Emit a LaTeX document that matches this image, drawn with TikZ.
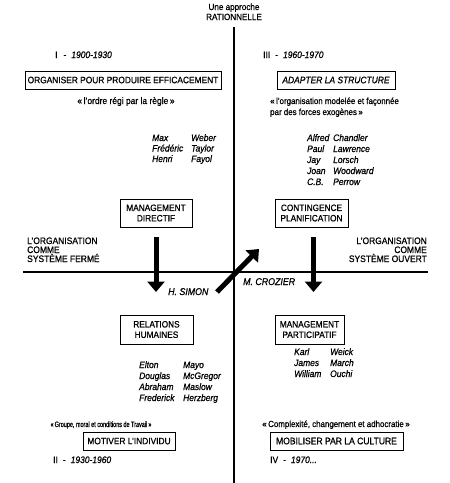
\documentclass[tikz,border=0pt]{standalone}
\usepackage{fontspec}
\setmainfont{Liberation Sans}[FakeStretch=0.9, FakeBold=0.7]
\usetikzlibrary{arrows.meta}
\begin{document}
\begin{tikzpicture}[x=1pt,y=-1pt,
  txt/.style={inner sep=0pt, font=\fontsize{9.4}{10}\selectfont},
  nm/.style={inner sep=0pt, anchor=base west, font=\fontsize{9.4}{10}\selectfont\itshape},
  quote/.style={inner sep=0pt, font=\fontsize{8.8}{10}\selectfont},
  bigbox/.style={draw, line width=1pt, inner sep=0pt, minimum height=18pt, font=\fontsize{9.3}{10}\selectfont},
  smallbox/.style={draw, line width=1pt, inner sep=0pt, align=center, font=\fontsize{9.2}{10.4}\selectfont},
  axis/.style={line width=1.5pt},
  bigarrow/.style={line width=5pt, -{Triangle[length=10.5pt,width=17pt]}}
]
\fill[white] (0,0) rectangle (450,483);
\useasboundingbox (0,0) rectangle (450,483);

% title
\node[txt, anchor=base, font=\fontsize{9}{10}\selectfont] (t1) at (234,10) {Une approche};
\node[txt, anchor=base, font=\fontsize{9}{10}\selectfont] (t2) at (234,20) {RATIONNELLE};

% axes
\coordinate (vtop) at (234,27);
\coordinate (vbot) at (234,483);
\coordinate (hl) at (23,272);
\coordinate (hr) at (428,272);
\draw[axis] (vtop) -- (vbot);
\draw[axis] (hl) -- (hr);

% periods
\node[txt, anchor=base west] (p1) at (55,58) {I\hspace{6pt}-\hspace{5pt}\textit{1900-1930}};
\node[txt, anchor=base west] (p3) at (263,58) {III\hspace{5pt}-\hspace{5pt}\textit{1960-1970}};
\node[txt, anchor=base west] (p2) at (53,463) {II\hspace{5pt}-\hspace{5pt}\textit{1930-1960}};
\node[txt, anchor=base west] (p4) at (270,463) {IV\hspace{5pt}-\hspace{5pt}\textit{1970...}};

% top boxes
\node[bigbox, minimum width=196pt] (b1) at (123,80) {ORGANISER POUR PRODUIRE EFFICACEMENT};
\node[bigbox, minimum width=118pt, font=\fontsize{9.4}{10}\selectfont\itshape] (b2) at (336,80) {ADAPTER LA STRUCTURE};

% top quotes
\node[quote, anchor=base, font=\fontsize{9.4}{10}\selectfont] (q1) at (126,104) {«\,l'ordre régi par la règle\,»};
\node[quote, anchor=base west] (q3a) at (270,104) {«\,l'organisation modelée et façonnée};
\node[quote, anchor=base west] (q3b) at (270,115) {par des forces exogènes\,»};

% names top-left
\node[nm] (n1a) at (152,141) {Max};
\node[nm] (n1b) at (191,141) {Weber};
\node[nm] (n2a) at (152,151.5) {Frédéric};
\node[nm] (n2b) at (191,151.5) {Taylor};
\node[nm] (n3a) at (152,162) {Henri};
\node[nm] (n3b) at (191,162) {Fayol};

% names top-right
\node[nm] (r1a) at (307,141) {Alfred};
\node[nm] (r1b) at (333,141) {Chandler};
\node[nm] (r2a) at (307,152) {Paul};
\node[nm] (r2b) at (333,152) {Lawrence};
\node[nm] (r3a) at (307,163) {Jay};
\node[nm] (r3b) at (333,163) {Lorsch};
\node[nm] (r4a) at (307,174) {Joan};
\node[nm] (r4b) at (333,174) {Woodward};
\node[nm] (r5a) at (307,185) {C.B.};
\node[nm] (r5b) at (333,185) {Perrow};

% middle boxes
\node[smallbox, minimum width=72pt, minimum height=28pt] (md) at (156,213) {MANAGEMENT\\DIRECTIF};
\node[smallbox, minimum width=73pt, minimum height=28pt] (cp) at (311.5,213) {CONTINGENCE\\PLANIFICATION};

% side labels
\node[txt, anchor=base west] (sl1) at (27,244) {L'ORGANISATION};
\node[txt, anchor=base west] (sl2) at (27,253) {COMME};
\node[txt, anchor=base west] (sl3) at (27,262) {SYSTÈME FERMÉ};
\node[txt, anchor=base east] (sr1) at (427,244) {L'ORGANISATION};
\node[txt, anchor=base east] (sr2) at (427,253) {COMME};
\node[txt, anchor=base east] (sr3) at (427,262) {SYSTÈME OUVERT};

% arrows
\coordinate (a1s) at (156,237);
\coordinate (a1e) at (156,292);
\coordinate (a2s) at (313.5,237);
\coordinate (a2e) at (313.5,292);
\coordinate (a3s) at (217,292);
\coordinate (a3e) at (259,249);
\draw[bigarrow] (a1s) -- (a1e);
\draw[bigarrow] (a2s) -- (a2e);
\draw[bigarrow] (a3s) -- (a3e);

\node[nm, font=\fontsize{9.8}{10}\selectfont\itshape] (hs) at (168,295) {H. SIMON};
\node[nm, font=\fontsize{9.8}{10}\selectfont\itshape] (mc) at (243,285) {M. CROZIER};

% lower boxes
\node[smallbox, minimum width=73pt, minimum height=29pt] (rh) at (156.5,329.5) {RELATIONS\\HUMAINES};
\node[smallbox, minimum width=69pt, minimum height=29pt] (mp) at (309.5,329.5) {MANAGEMENT\\PARTICIPATIF};

% names bottom-left
\node[nm] (l1a) at (139,368) {Elton};
\node[nm] (l1b) at (183,368) {Mayo};
\node[nm] (l2a) at (139,379) {Douglas};
\node[nm] (l2b) at (183,379) {McGregor};
\node[nm] (l3a) at (139,390) {Abraham};
\node[nm] (l3b) at (183,390) {Maslow};
\node[nm] (l4a) at (139,401) {Frederick};
\node[nm] (l4b) at (183,401) {Herzberg};

% names bottom-right
\node[nm] (k1a) at (294,355) {Karl};
\node[nm] (k1b) at (330,355) {Weick};
\node[nm] (k2a) at (294,366) {James};
\node[nm] (k2b) at (330,366) {March};
\node[nm] (k3a) at (294,377) {William};
\node[nm] (k3b) at (330,377) {Ouchi};

% bottom quotes
\node[quote, anchor=base, font=\fontsize{7.8}{10}\selectfont] (q2) at (101,427) {\scalebox{0.78}[1]{«\,Groupe, moral et conditions de Travail\,»}};
\node[quote, anchor=base] (q4) at (336,427) {«\,Complexité, changement et adhocratie\,»};

% bottom boxes
\node[bigbox, minimum width=92pt] (mi) at (129,441) {MOTIVER L'INDIVIDU};
\node[bigbox, minimum width=133pt, font=\fontsize{9.5}{10}\selectfont] (mb) at (336.5,441) {MOBILISER PAR LA CULTURE};
\end{tikzpicture}
\end{document}
